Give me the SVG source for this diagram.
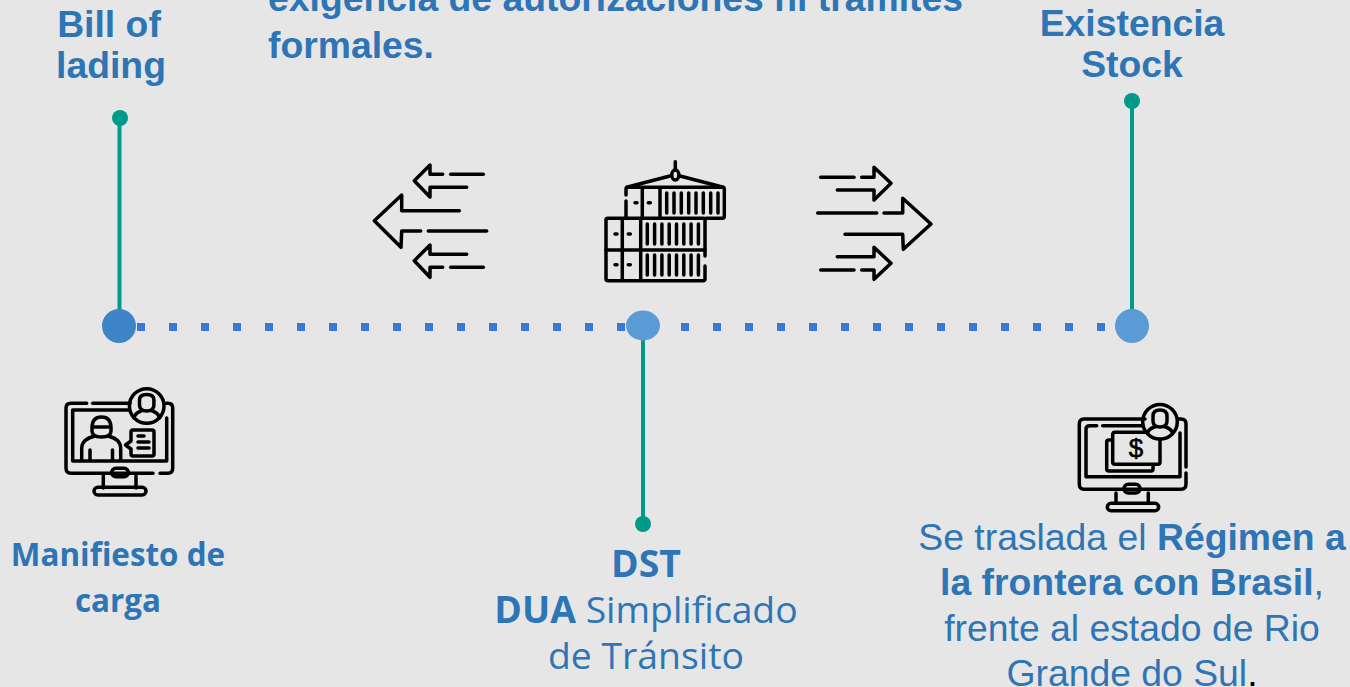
<svg xmlns="http://www.w3.org/2000/svg" width="1350" height="687" viewBox="0 0 1350 687">
<style>
.bg{fill:#e6e6e6}
.t{font-family:"Liberation Sans",Arial,sans-serif;fill:#2e75b6;font-size:37.330px;text-anchor:middle}
.o{font-family:"Open Sans","Liberation Sans",sans-serif;fill:#2e75b6;text-anchor:middle}
.b{font-weight:700}
.k{fill:none;stroke:#000;stroke-width:3.500;stroke-linecap:round;stroke-linejoin:round}
.teal{stroke:#009a8a;stroke-width:4;fill:none}
.td{fill:#009a8a}
.dots{stroke:#3c78d8;stroke-width:8;stroke-dasharray:8 24;fill:none}
</style>
<rect class="bg" width="1350" height="687"/>
<g id="connectors">
<path class="dots" d="M137 327H1121"/>
<path class="teal" d="M119.500 118V312"/>
<path class="teal" d="M1132 101V312"/>
<path class="teal" d="M643 340V524"/>
</g>
<g id="heading">
<text class="t b" x="268" y="11" style="text-anchor:start">exigencia de autorizaciones ni trámites</text>
<text class="t b" x="268" y="57.500" style="text-anchor:start">formales.</text>
</g>
<g id="node-bill">
<circle class="td" cx="120" cy="118" r="8"/>
<circle cx="119" cy="326" r="17" fill="#3d85c6"/>
<text class="t b" x="109" y="37">Bill of</text>
<text class="t b" x="111" y="78">lading</text>
</g>
<g id="node-dst">
<circle class="td" cx="643" cy="524" r="8"/>
<ellipse cx="643" cy="325.500" rx="17" ry="15" fill="#5b9bd5"/>
<text class="o b" x="646" y="577" font-size="37.330">DST</text>
<text class="o" x="646" y="623" font-size="37.330"><tspan class="b">DUA</tspan> Simplificado</text>
<text class="o" x="646" y="669" font-size="37.330">de Tránsito</text>
</g>
<g id="node-existencia">
<circle class="td" cx="1132" cy="101" r="8"/>
<circle cx="1132" cy="326" r="17" fill="#5b9bd5"/>
<text class="t b" x="1132" y="36">Existencia</text>
<text class="t b" x="1132" y="77">Stock</text>
</g>
<g id="node-manifiesto">
<text class="o b" x="118" y="566" font-size="31.400">Manifiesto de</text>
<text class="o b" x="118" y="612" font-size="31.400">carga</text>
</g>
<g id="node-regimen">
<text class="t" x="1132" y="550">Se traslada el <tspan class="b">Régimen a</tspan></text>
<text class="t" x="1132" y="595"><tspan class="b">la frontera con Brasil</tspan>,</text>
<text class="t" x="1132" y="641">frente al estado de Rio</text>
<text class="t" x="1132" y="686">Grande do Sul<tspan fill="#000">.</tspan></text>
</g>
<g id="icon-arrows-left" class="k">
<path d="M442.700 174.300H430V165L414.300 180.700L430 197V187.300H466.700"/>
<path d="M450.700 174.300H483.300"/>
<path d="M459.300 210.700H401.700V195L374.300 220.700L401 247.300L401.700 231H420.700"/>
<path d="M428.300 231H486.700"/>
<path d="M466.700 254.300H430V245L414.300 260.700L430 277.300V267.300H442.700"/>
<path d="M450.700 267.300H483.300"/>
</g>
<g id="icon-arrows-right" class="k">
<path d="M820.700 177.300H854"/>
<path d="M861.700 177.300H874V167.300L891 183.300L874 200V190H837.300"/>
<path d="M817.700 213H876.700"/>
<path d="M884 213H902.700V198.300L931 224L903.300 249.300L902.700 234.300H845"/>
<path d="M837.300 256.700H874V247.300L891 263.300L874 279.300V270H861.700"/>
<path d="M820.700 270H854"/>
</g>
<g id="icon-containers" class="k">
<path d="M675.300 161.700V170"/>
<ellipse cx="675.300" cy="175" rx="3.500" ry="5"/>
<path d="M626.700 187.300L670 176M680 176L723.300 187.300"/>
<path d="M626 195V189Q626 187.300 628 187.300H722.300Q724.300 187.300 724.300 189V216.300Q724.300 218.300 722.300 218.300H706"/>
<path d="M626 201V218"/>
<path d="M642.300 188V218M660 188V218"/>
<path d="M666.700 193V213M674 193V213M681.300 193V213M688.700 193V213M696 193V213M703.300 193V213M710.700 193V213M718 193V213"/>
<path d="M635 202.700H637M648.300 202.700H650.300"/>
<path d="M608 218.300H703Q705 218.300 705 220V256M705 266V279Q705 280.700 703 280.700H608Q606 280.700 606 279V220Q606 218.300 608 218.300"/>
<path d="M606 250H705"/>
<path d="M622.300 219V280M640.700 219V280"/>
<path d="M647.300 224V244M654.600 224V244M661.900 224V244M669.200 224V244M676.500 224V244M683.800 224V244M691.100 224V244M698.400 224V244"/>
<path d="M647.300 255V275M654.600 255V275M661.900 255V275M669.200 255V275M676.500 255V275M683.800 255V275M691.100 255V275M698.400 255V275"/>
<path d="M615 234H617M628.300 234H630.300M615 264.700H617M628.300 264.700H630.300"/>
</g>
<g id="icon-monitor-person" class="k">
<path d="M86.700 403.300H71Q66 403.300 66 408V468Q66 473.300 71 473.300H153M160 473.300H168Q172.700 473.300 172.700 468V408Q172.700 403.300 168 403.300H166"/>
<path d="M92.700 403.300H130"/>
<path d="M129 410H72.700V461H166.700V418"/>
<circle cx="146.700" cy="406" r="17.300"/>
<path d="M139.500 400Q139.500 394.500 146.700 394.500Q153.900 394.500 153.900 400V405Q153.900 411 146.700 411Q139.500 411 139.500 405ZM134 418Q135 413 141 411M159.500 418Q158.500 413 152.500 411"/>
<path d="M92 428Q92 417 101.500 417Q111 417 111 428V431Q111 437 101.500 437Q92 437 92 431ZM92 427H111"/>
<path d="M81.700 460V448Q82 439 95 436M120.700 460V448Q120.400 439 108 436M90 460V450M112.500 460V450"/>
<path d="M133 430H152Q154 430 154 432V454Q154 456 152 456H133Q131 456 131 454V449L125.500 445L131 441V432Q131 430 133 430Z"/>
<path d="M138 436H144M138 442H149M138 448H149"/>
<rect x="111.700" y="468.300" width="16.600" height="8.400" rx="4.200"/>
<path d="M103.300 476V488M136 476V488"/>
<rect x="94" y="487.300" width="52" height="7.700" rx="3.800"/>
</g>
<g id="icon-monitor-money" class="k">
<path d="M1145 419H1084Q1079.300 419 1079.300 424V484Q1079.300 489.300 1084 489.300H1181Q1186 489.300 1186 484V473M1186 467V424Q1186 419 1181 419H1178"/>
<path d="M1096.700 425.700H1090Q1086 425.700 1086 429V476.700H1180V433"/>
<path d="M1102.700 425.700H1143"/>
<circle cx="1160" cy="421.700" r="17.300"/>
<path d="M1153 416Q1153 410 1160 410Q1167 410 1167 416V421Q1167 427 1160 427Q1153 427 1153 421ZM1147.500 433Q1148.500 429 1154.500 427M1172.500 433Q1171.500 429 1165.500 427"/>
<path d="M1146 432.300H1115Q1112.700 432.300 1112.700 435V462Q1112.700 464.300 1115 464.300H1158Q1160 464.300 1160 462V440"/>
<path d="M1112 440H1109Q1106.700 440 1106.700 442V469Q1106.700 471 1109 471H1151Q1153 471 1153 469V465"/>
<rect x="1124" y="484.300" width="16" height="8.700" rx="4.300"/>
<path d="M1116 493V503M1148.300 493V503"/>
<rect x="1107.300" y="503.300" width="51.400" height="7.400" rx="3.700"/>
<text x="1136" y="457" font-family="Liberation Sans,sans-serif" font-size="26" fill="#000" stroke="#000" stroke-width="0.600" text-anchor="middle">$</text>
</g>
</svg>
